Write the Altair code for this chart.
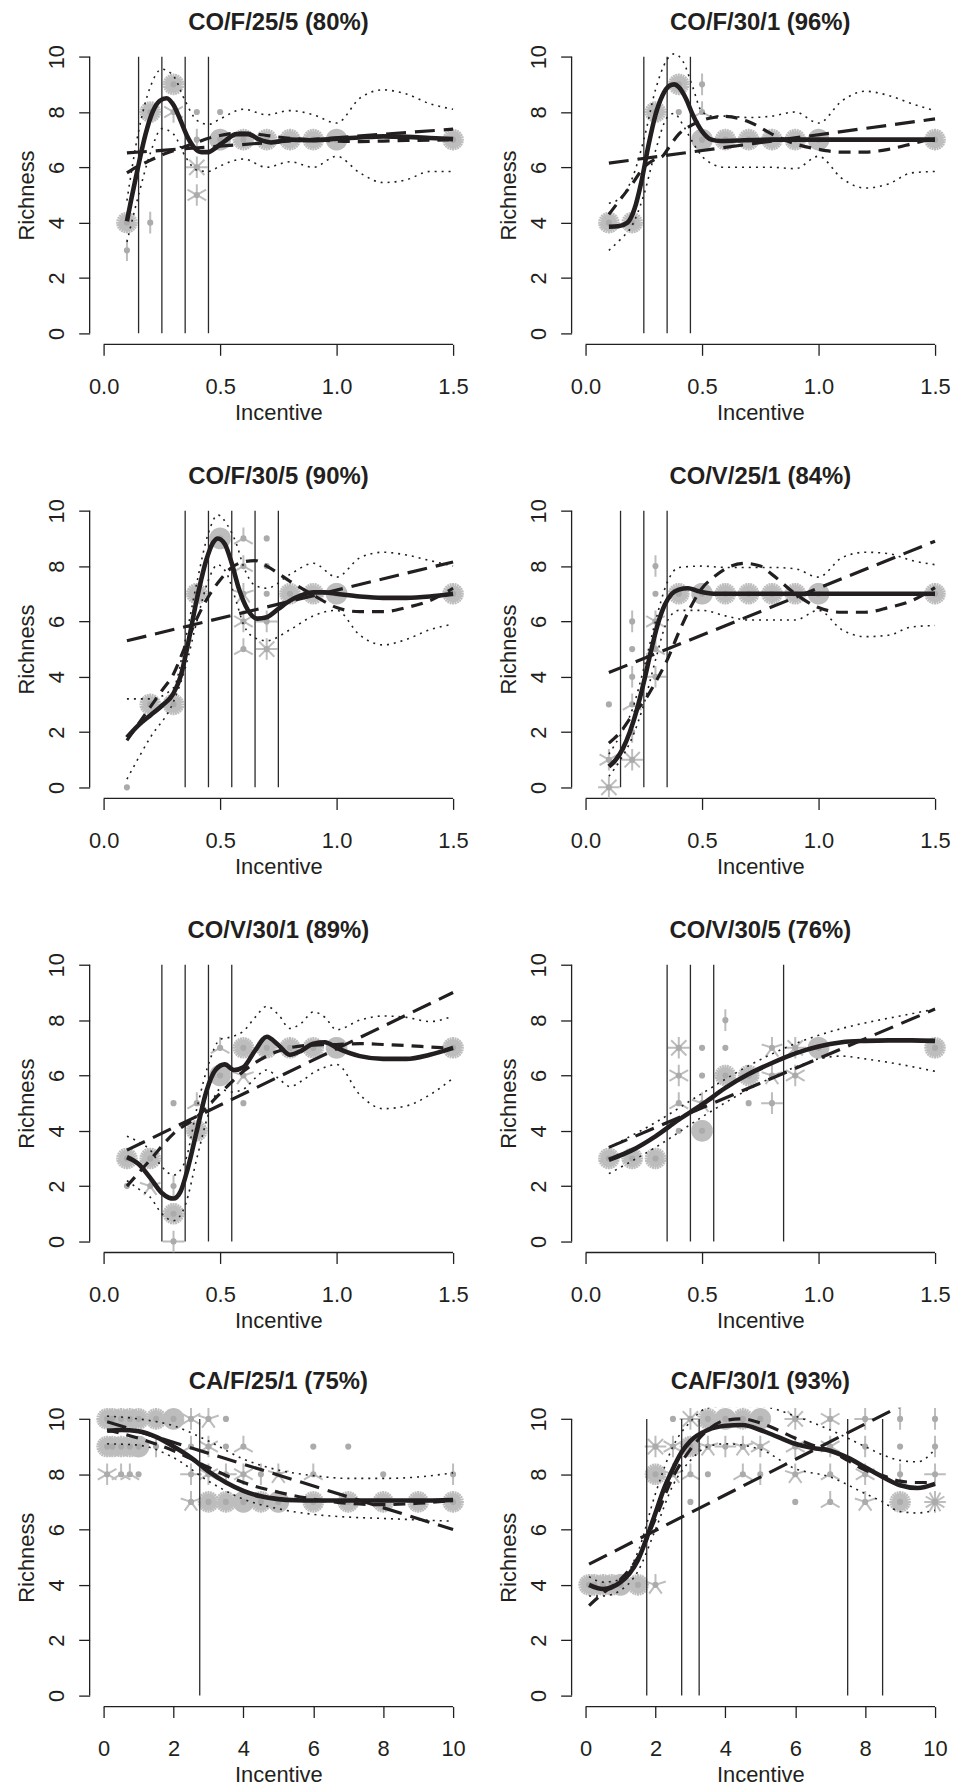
import math
import pandas as pd
import altair as alt

FONT = "Liberation Sans"
INK = "#231f20"
PETAL = "#bdbdbd"
DOT = "#ababab"

YTICKS = [0, 2, 4, 6, 8, 10]
XTICKS_CO = [0.0, 0.5, 1.0, 1.5]
XTICKS_CA = [0, 2, 4, 6, 8, 10]

TITLES = ["CO/F/25/5 (80%)", "CO/F/30/1 (96%)", "CO/F/30/5 (90%)", "CO/V/25/1 (84%)",
          "CO/V/30/1 (89%)", "CO/V/30/5 (76%)", "CA/F/25/1 (75%)", "CA/F/30/1 (93%)"]

# ---------------- Panel 1: CO/F/25/5 ----------------
P1_PX = [0.1, 0.1, 0.2, 0.2, 0.3, 0.3, 0.4, 0.4, 0.4, 0.4, 0.5, 0.5, 0.6, 0.7, 0.8, 0.9, 1.0, 1.5]
P1_PY = [4, 3, 4, 8, 9, 8, 8, 7, 6, 5, 8, 7, 7, 7, 7, 7, 7, 7]
P1_PN = [24, 2, 2, 24, 24, 6, 1, 2, 8, 6, 1, 60, 24, 24, 24, 24, 60, 24]
P1_V = [0.15, 0.25, 0.35, 0.45]
P1_FX = [0.10, 0.12, 0.15, 0.18, 0.21, 0.24, 0.27, 0.30, 0.33, 0.36, 0.39, 0.42, 0.45, 0.48, 0.52, 0.57, 0.62, 0.67, 0.72, 0.8, 0.9, 1.0, 1.1, 1.2, 1.3, 1.4, 1.5]
P1_FY = [4.05, 4.9, 6.1, 7.2, 8.0, 8.4, 8.5, 8.25, 7.7, 7.1, 6.7, 6.55, 6.55, 6.7, 6.95, 7.2, 7.2, 7.0, 6.9, 7.0, 6.98, 7.03, 7.08, 7.12, 7.1, 7.06, 7.02]
P1_SX = [0.1, 0.15, 0.2, 0.25, 0.3, 0.35, 0.4, 0.45, 0.5, 0.55, 0.6, 0.7, 0.8, 0.9, 1.0, 1.1, 1.2, 1.3, 1.4, 1.5]
P1_SY = [5.8, 6.05, 6.25, 6.45, 6.6, 6.75, 6.9, 7.05, 7.15, 7.22, 7.24, 7.15, 7.05, 7.0, 6.95, 6.93, 6.95, 6.97, 6.98, 7.0]
P1_LX = [0.1, 1.5]
P1_LY = [6.52, 7.38]
P1_BX = [0.1, 0.15, 0.2, 0.25, 0.3, 0.35, 0.4, 0.45, 0.5, 0.6, 0.7, 0.8, 0.9, 1.0, 1.1, 1.2, 1.3, 1.4, 1.5]
P1_UY = [4.8, 7.3, 8.9, 9.55, 9.3, 8.4, 7.7, 7.55, 7.75, 8.1, 7.9, 8.05, 7.9, 7.6, 8.5, 8.8, 8.65, 8.3, 8.1]
P1_DY = [3.3, 5.0, 6.5, 7.4, 7.2, 6.4, 5.9, 5.85, 6.05, 6.3, 6.0, 6.2, 6.0, 6.4, 5.8, 5.45, 5.55, 5.85, 5.85]

# ---------------- Panel 2: CO/F/30/1 ----------------
P2_PX = [0.1, 0.2, 0.3, 0.4, 0.4, 0.5, 0.5, 0.5, 0.6, 0.7, 0.8, 0.9, 1.0, 1.5]
P2_PY = [4, 4, 8, 9, 8, 9, 8, 7, 7, 7, 7, 7, 7, 7]
P2_PN = [24, 24, 24, 24, 1, 2, 3, 60, 24, 24, 24, 24, 60, 24]
P2_V = [0.25, 0.35, 0.45]
P2_FX = [0.1, 0.14, 0.18, 0.21, 0.24, 0.27, 0.3, 0.33, 0.36, 0.38, 0.4, 0.43, 0.46, 0.5, 0.54, 0.58, 0.65, 0.8, 1.0, 1.2, 1.5]
P2_FY = [3.85, 3.87, 4.0, 4.5, 5.5, 6.8, 7.9, 8.6, 8.95, 9.0, 8.9, 8.5, 7.9, 7.3, 7.0, 6.95, 6.97, 7.0, 7.0, 7.0, 7.0]
P2_SX = [0.1, 0.15, 0.2, 0.25, 0.3, 0.33, 0.36, 0.4, 0.45, 0.5, 0.55, 0.6, 0.7, 0.8, 0.9, 1.0, 1.1, 1.2, 1.3, 1.4, 1.5]
P2_SY = [4.3, 4.85, 5.4, 6.0, 6.3, 6.4, 6.75, 7.2, 7.5, 7.7, 7.8, 7.84, 7.65, 7.2, 6.85, 6.65, 6.55, 6.55, 6.65, 6.85, 7.07]
P2_LX = [0.1, 1.5]
P2_LY = [6.15, 7.75]
P2_BX = [0.1, 0.15, 0.2, 0.25, 0.3, 0.35, 0.38, 0.42, 0.46, 0.5, 0.55, 0.6, 0.7, 0.8, 0.9, 1.0, 1.1, 1.2, 1.3, 1.4, 1.5]
P2_UY = [4.7, 4.9, 5.6, 7.0, 8.8, 9.9, 10.1, 9.8, 8.9, 8.0, 7.85, 7.85, 7.8, 7.85, 8.0, 7.6, 8.4, 8.75, 8.6, 8.3, 8.05]
P2_DY = [3.0, 3.4, 3.9, 5.0, 6.6, 7.8, 7.95, 7.5, 6.9, 6.4, 6.1, 6.0, 6.0, 6.0, 5.95, 6.4, 5.6, 5.25, 5.4, 5.8, 5.85]

# ---------------- Panel 3: CO/F/30/5 ----------------
P3_PX = [0.1, 0.2, 0.3, 0.4, 0.5, 0.6, 0.6, 0.6, 0.6, 0.6, 0.7, 0.7, 0.7, 0.7, 0.7, 0.8, 0.9, 1.0, 1.5]
P3_PY = [0, 3, 3, 7, 9, 9, 8, 7, 6, 5, 9, 8, 7, 6, 5, 7, 7, 7, 7]
P3_PN = [1, 24, 24, 24, 60, 3, 3, 5, 6, 3, 1, 1, 1, 4, 8, 24, 24, 60, 24]
P3_V = [0.35, 0.45, 0.55, 0.65, 0.75]
P3_FX = [0.1, 0.15, 0.2, 0.25, 0.3, 0.33, 0.36, 0.4, 0.44, 0.47, 0.49, 0.52, 0.55, 0.58, 0.62, 0.66, 0.7, 0.75, 0.8, 0.85, 0.9, 0.95, 1.0, 1.1, 1.2, 1.3, 1.4, 1.5]
P3_FY = [1.8, 2.25, 2.6, 2.95, 3.4, 4.0, 5.1, 6.8, 8.2, 8.85, 9.0, 8.8, 8.1, 7.2, 6.4, 6.1, 6.15, 6.45, 6.75, 6.95, 7.05, 7.05, 7.0, 6.9, 6.85, 6.85, 6.9, 7.0]
P3_SX = [0.1, 0.15, 0.2, 0.25, 0.3, 0.35, 0.4, 0.45, 0.5, 0.55, 0.6, 0.65, 0.7, 0.8, 0.9, 1.0, 1.1, 1.2, 1.3, 1.4, 1.5]
P3_SY = [1.7, 2.3, 2.9, 3.5, 4.1, 5.1, 6.1, 6.9, 7.5, 7.95, 8.15, 8.2, 8.0, 7.45, 6.95, 6.5, 6.35, 6.35, 6.5, 6.75, 7.2]
P3_LX = [0.1, 1.5]
P3_LY = [5.3, 8.15]
P3_BX = [0.1, 0.2, 0.3, 0.35, 0.4, 0.45, 0.49, 0.53, 0.57, 0.6, 0.65, 0.7, 0.8, 0.9, 1.0, 1.1, 1.2, 1.3, 1.4, 1.5]
P3_UY = [3.2, 3.2, 3.6, 5.3, 7.4, 9.2, 9.85, 9.5, 8.8, 8.0, 7.3, 7.2, 7.7, 8.1, 7.6, 8.3, 8.5, 8.4, 8.2, 8.0]
P3_DY = [0.3, 1.8, 3.1, 4.3, 6.0, 7.5, 8.05, 7.7, 6.7, 5.9, 5.4, 5.3, 5.7, 6.2, 6.4, 5.5, 5.15, 5.35, 5.7, 5.9]

# ---------------- Panel 4: CO/V/25/1 ----------------
P4_PX = [0.1, 0.1, 0.1, 0.2, 0.2, 0.2, 0.2, 0.2, 0.2, 0.3, 0.3, 0.3, 0.3, 0.3, 0.4, 0.5, 0.6, 0.7, 0.8, 0.9, 1.0, 1.5]
P4_PY = [3, 1, 0, 6, 5, 4, 3, 2, 1, 8, 7, 6, 5, 4, 7, 7, 7, 7, 7, 7, 7, 7]
P4_PN = [1, 6, 8, 2, 1, 2, 3, 2, 8, 2, 1, 6, 3, 4, 24, 60, 24, 24, 24, 24, 60, 24]
P4_V = [0.15, 0.25, 0.35]
P4_FX = [0.1, 0.13, 0.16, 0.19, 0.22, 0.25, 0.28, 0.31, 0.34, 0.37, 0.4, 0.44, 0.48, 0.55, 0.7, 1.0, 1.5]
P4_FY = [0.75, 1.0, 1.4, 2.0, 2.8, 3.8, 4.9, 5.9, 6.6, 7.0, 7.15, 7.2, 7.1, 7.0, 7.0, 7.0, 7.0]
P4_SX = [0.1, 0.15, 0.2, 0.25, 0.3, 0.35, 0.4, 0.45, 0.5, 0.55, 0.6, 0.68, 0.75, 0.8, 0.9, 1.0, 1.1, 1.2, 1.3, 1.4, 1.5]
P4_SY = [1.6, 2.0, 2.6, 3.1, 3.8, 4.6, 5.6, 6.5, 7.2, 7.6, 7.9, 8.1, 8.0, 7.7, 7.0, 6.5, 6.33, 6.33, 6.5, 6.75, 7.22]
P4_LX = [0.1, 1.5]
P4_LY = [4.15, 8.9]
P4_BX = [0.1, 0.15, 0.2, 0.25, 0.3, 0.35, 0.4, 0.5, 0.6, 0.7, 0.8, 0.9, 1.0, 1.1, 1.2, 1.3, 1.4, 1.5]
P4_UY = [1.2, 1.9, 2.8, 4.3, 6.0, 7.4, 7.95, 8.0, 7.95, 7.95, 7.95, 7.9, 7.6, 8.3, 8.5, 8.45, 8.2, 8.05]
P4_DY = [0.4, 1.0, 1.8, 3.0, 4.6, 6.0, 6.4, 6.4, 6.2, 6.05, 6.05, 6.05, 6.4, 5.7, 5.45, 5.5, 5.8, 5.85]

# ---------------- Panel 5: CO/V/30/1 ----------------
P5_PX = [0.1, 0.1, 0.2, 0.2, 0.3, 0.3, 0.3, 0.3, 0.4, 0.4, 0.5, 0.5, 0.6, 0.6, 0.6, 0.7, 0.8, 0.9, 1.0, 1.5]
P5_PY = [3, 2, 3, 2, 5, 2, 1, 0, 5, 4, 7, 6, 7, 6, 5, 7, 7, 7, 7, 7]
P5_PN = [24, 1, 24, 5, 1, 2, 24, 4, 3, 24, 3, 60, 24, 5, 1, 24, 24, 24, 60, 24]
P5_V = [0.25, 0.35, 0.45, 0.55]
P5_FX = [0.1, 0.15, 0.2, 0.25, 0.28, 0.3, 0.33, 0.36, 0.4, 0.44, 0.48, 0.52, 0.56, 0.6, 0.65, 0.7, 0.75, 0.8, 0.85, 0.9, 0.95, 1.0, 1.1, 1.2, 1.3, 1.4, 1.5]
P5_FY = [3.05, 2.8, 2.3, 1.75, 1.58, 1.55, 1.8, 2.6, 4.0, 5.4, 6.2, 6.4, 6.2, 6.3, 6.9, 7.4, 7.1, 6.75, 6.9, 7.15, 7.2, 7.0, 6.7, 6.6, 6.6, 6.75, 7.0]
P5_SX = [0.1, 0.2, 0.3, 0.4, 0.5, 0.6, 0.7, 0.8, 0.9, 1.0, 1.1, 1.2, 1.3, 1.4, 1.5]
P5_SY = [2.0, 2.95, 3.9, 4.5, 5.35, 6.15, 6.7, 7.0, 7.1, 7.12, 7.15, 7.12, 7.08, 7.03, 6.98]
P5_LX = [0.1, 1.5]
P5_LY = [3.3, 9.0]
P5_BX = [0.1, 0.15, 0.2, 0.25, 0.3, 0.35, 0.4, 0.45, 0.5, 0.55, 0.6, 0.65, 0.7, 0.75, 0.8, 0.85, 0.9, 0.95, 1.0, 1.1, 1.2, 1.3, 1.4, 1.5]
P5_UY = [3.8, 3.6, 3.3, 2.7, 2.4, 2.9, 4.8, 6.4, 7.3, 7.4, 7.6, 8.1, 8.5, 8.2, 7.7, 7.9, 8.3, 8.1, 7.65, 8.0, 8.15, 8.1, 7.95, 8.15]
P5_DY = [2.2, 1.9, 1.6, 1.0, 0.75, 1.3, 3.0, 4.6, 5.5, 5.4, 5.5, 5.9, 6.2, 5.9, 5.6, 5.8, 6.1, 6.3, 6.4, 5.3, 4.8, 4.9, 5.3, 5.9]

# ---------------- Panel 6: CO/V/30/5 ----------------
P6_PX = [0.1, 0.2, 0.3, 0.4, 0.4, 0.4, 0.4, 0.5, 0.5, 0.5, 0.5, 0.6, 0.6, 0.6, 0.7, 0.7, 0.8, 0.8, 0.8, 0.9, 0.9, 1.0, 1.5]
P6_PY = [3, 3, 3, 7, 6, 5, 4, 7, 6, 5, 4, 8, 7, 6, 6, 5, 7, 6, 5, 7, 6, 7, 7]
P6_PN = [24, 24, 24, 8, 6, 3, 1, 1, 1, 5, 60, 2, 1, 24, 24, 1, 5, 5, 4, 8, 6, 60, 24]
P6_V = [0.35, 0.45, 0.55, 0.85]
P6_FX = [0.1, 0.2, 0.3, 0.4, 0.5, 0.6, 0.7, 0.8, 0.9, 1.0, 1.1, 1.2, 1.3, 1.4, 1.5]
P6_FY = [2.95, 3.3, 3.8, 4.4, 4.95, 5.55, 6.05, 6.45, 6.8, 7.05, 7.2, 7.25, 7.27, 7.27, 7.25]
P6_SX = []
P6_SY = []
P6_LX = [0.1, 1.5]
P6_LY = [3.4, 8.4]
P6_BX = [0.1, 0.3, 0.5, 0.7, 0.9, 1.0, 1.1, 1.2, 1.35, 1.5]
P6_UY = [3.4, 4.3, 5.35, 6.35, 7.15, 7.45, 7.7, 7.9, 8.15, 8.4]
P6_DY = [2.45, 3.4, 4.5, 5.5, 6.3, 6.6, 6.7, 6.6, 6.4, 6.15]

# ---------------- Panel 7: CA/F/25/1 ----------------
P7_PX = [0.1, 0.25, 0.5, 0.75, 1.0, 1.5, 2.0, 2.5, 3.0, 3.5,
         0.1, 0.25, 0.5, 0.75, 1.0, 1.5, 2.5, 3.0, 3.5, 4.0, 6, 7,
         0.1, 0.5, 0.75, 1.0, 2.5, 3.0, 3.5, 4.0, 4.5, 5, 6, 8, 10,
         2.5, 3, 3.5, 4, 4.5, 5, 6, 7, 8, 9, 10]
P7_PY = [10, 10, 10, 10, 10, 10, 10, 10, 10, 10,
         9, 9, 9, 9, 9, 9, 9, 9, 9, 9, 9, 9,
         8, 8, 8, 8, 8, 8, 8, 8, 8, 8, 8, 8, 8,
         7, 7, 7, 7, 7, 7, 7, 7, 7, 7, 7]
P7_PN = [24, 24, 24, 24, 24, 24, 60, 6, 5, 1,
         24, 24, 24, 24, 60, 2, 3, 6, 1, 3, 1, 1,
         6, 3, 3, 1, 4, 6, 4, 6, 2, 5, 3, 1, 2,
         5, 24, 24, 60, 24, 60, 24, 24, 24, 24, 24]
P7_V = [2.75]
P7_FX = [0.1, 0.5, 1.0, 1.5, 2.0, 2.5, 3.0, 3.5, 4.0, 4.5, 5.0, 5.5, 6, 7, 8, 9, 10]
P7_FY = [9.57, 9.6, 9.55, 9.35, 9.0, 8.6, 8.1, 7.7, 7.4, 7.2, 7.1, 7.06, 7.05, 7.05, 7.05, 7.05, 7.07]
P7_SX = [0.1, 1, 2, 3, 4, 5, 6, 7, 8, 9, 10]
P7_SY = [9.6, 9.3, 8.85, 8.25, 7.7, 7.35, 7.1, 6.95, 6.9, 6.95, 7.05]
P7_LX = [0.1, 10]
P7_LY = [9.9, 6.0]
P7_BX = [0.1, 1, 2, 3, 4, 5, 6, 7, 8, 9, 10]
P7_UY = [10.1, 10.0, 9.75, 9.2, 8.55, 8.15, 7.95, 7.85, 7.85, 7.9, 8.05]
P7_DY = [9.1, 9.05, 8.6, 7.75, 7.1, 6.75, 6.55, 6.45, 6.4, 6.35, 6.3]

# ---------------- Panel 8: CA/F/30/1 ----------------
P8_PX = [0.1, 0.25, 0.5, 0.75, 1.0, 1.5, 2.0,
         2.0, 2.0, 2.5, 2.5, 2.5, 3.0, 3.0, 3.0, 3.0, 3.5, 3.5, 3.5,
         4.0, 4.0, 4.5, 4.5, 4.5, 5.0, 5.0, 5.0,
         6, 6, 6, 6, 7, 7, 7, 7, 8, 8, 8, 8, 9, 9, 9, 9, 10, 10, 10, 10]
P8_PY = [4, 4, 4, 4, 4, 4, 4,
         9, 8, 10, 9, 8, 10, 9, 8, 7, 10, 9, 8,
         10, 9, 10, 9, 8, 10, 9, 8,
         10, 9, 8, 7, 10, 9, 8, 7, 10, 9, 8, 7, 10, 9, 8, 7, 10, 9, 8, 7]
P8_PN = [24, 24, 24, 24, 60, 24, 5,
         8, 24, 1, 6, 5, 8, 24, 3, 1, 24, 5, 1,
         60, 4, 24, 5, 3, 60, 6, 2,
         8, 6, 5, 1, 6, 6, 3, 3, 4, 2, 6, 5, 2, 1, 2, 24, 2, 2, 4, 12]
P8_V = [1.75, 2.75, 3.25, 7.5, 8.5]
P8_FX = [0.1, 0.5, 1.0, 1.25, 1.5, 1.75, 2.0, 2.25, 2.5, 2.75, 3.0, 3.5, 4.0, 4.5, 5.0, 5.5, 6.0, 6.5, 7.0, 7.5, 8.0, 8.5, 9.0, 9.5, 10]
P8_FY = [4.0, 3.85, 4.1, 4.4, 4.9, 5.7, 6.6, 7.5, 8.2, 8.8, 9.2, 9.6, 9.75, 9.78, 9.6, 9.35, 9.1, 8.95, 8.85, 8.6, 8.25, 7.9, 7.6, 7.5, 7.65]
P8_SX = [0.1, 0.5, 1.0, 1.5, 2.0, 2.5, 3.0, 3.5, 4.0, 4.5, 5.0, 5.5, 6.0, 6.5, 7.0, 7.5, 8.0, 8.5, 9.0, 9.5, 10]
P8_SY = [3.25, 3.7, 4.2, 5.0, 6.4, 7.9, 8.9, 9.6, 9.95, 10.0, 9.85, 9.6, 9.3, 9.05, 8.85, 8.5, 8.15, 7.95, 7.75, 7.7, 7.7]
P8_LX = [0.1, 10]
P8_LY = [4.75, 11.1]
P8_BX = [0.1, 0.5, 1.0, 1.5, 2.0, 2.5, 3.0, 3.5, 4.0, 5.0, 6.0, 7.0, 8.0, 8.5, 9.0, 9.5, 10]
P8_UY = [4.3, 4.1, 4.2, 5.2, 7.3, 9.0, 9.9, 10.4, 10.45, 10.45, 10.1, 9.6, 9.0, 8.7, 8.5, 8.45, 8.9]
P8_DY = [3.6, 3.6, 3.8, 4.5, 6.0, 7.6, 8.5, 9.0, 9.1, 8.9, 8.2, 7.9, 7.3, 7.0, 6.65, 6.6, 6.7]

PANELS = [
    (P1_PX, P1_PY, P1_PN, P1_V, P1_FX, P1_FY, P1_SX, P1_SY, P1_LX, P1_LY, P1_BX, P1_UY, P1_DY, XTICKS_CO),
    (P2_PX, P2_PY, P2_PN, P2_V, P2_FX, P2_FY, P2_SX, P2_SY, P2_LX, P2_LY, P2_BX, P2_UY, P2_DY, XTICKS_CO),
    (P3_PX, P3_PY, P3_PN, P3_V, P3_FX, P3_FY, P3_SX, P3_SY, P3_LX, P3_LY, P3_BX, P3_UY, P3_DY, XTICKS_CO),
    (P4_PX, P4_PY, P4_PN, P4_V, P4_FX, P4_FY, P4_SX, P4_SY, P4_LX, P4_LY, P4_BX, P4_UY, P4_DY, XTICKS_CO),
    (P5_PX, P5_PY, P5_PN, P5_V, P5_FX, P5_FY, P5_SX, P5_SY, P5_LX, P5_LY, P5_BX, P5_UY, P5_DY, XTICKS_CO),
    (P6_PX, P6_PY, P6_PN, P6_V, P6_FX, P6_FY, P6_SX, P6_SY, P6_LX, P6_LY, P6_BX, P6_UY, P6_DY, XTICKS_CO),
    (P7_PX, P7_PY, P7_PN, P7_V, P7_FX, P7_FY, P7_SX, P7_SY, P7_LX, P7_LY, P7_BX, P7_UY, P7_DY, XTICKS_CA),
    (P8_PX, P8_PY, P8_PN, P8_V, P8_FX, P8_FY, P8_SX, P8_SY, P8_LX, P8_LY, P8_BX, P8_UY, P8_DY, XTICKS_CA),
]

W, H = 379, 300
PETAL_COUNTS = [2, 3, 4, 5, 6, 8, 12, 24, 60]


def petal_path(n):
    # sunflower glyph: n petals radiating from the centre, first one pointing up
    parts = []
    for k in range(1, n + 1):
        a = 2 * math.pi * k / n
        parts.append(f"M0,0L{math.sin(a):.4f},{-math.cos(a):.4f}")
    return "".join(parts)


PETAL_PATHS = [petal_path(n) for n in PETAL_COUNTS]


def expand(ticks):
    span = ticks[-1] - ticks[0]
    return [ticks[0] - 0.04 * span, ticks[-1] + 0.04 * span]


def make_panel(title, spec):
    px, py, pn, vl, fx, fy, sx, sy, lx, ly, bx, uy, dy, xticks = spec
    xdom = expand(xticks)
    ydom = expand(YTICKS)
    fmt = ".1f" if xticks[-1] < 5 else "d"

    def X(field):
        return alt.X(f"{field}:Q", scale=alt.Scale(domain=xdom, nice=False, zero=False),
                     axis=alt.Axis(values=xticks, format=fmt, title="Incentive",
                                   domain=False, grid=False, tickSize=11, tickWidth=1.3,
                                   tickColor=INK, labelFont=FONT, labelFontSize=22,
                                   labelColor=INK, labelPadding=38, labelBaseline="alphabetic",
                                   labelFlush=False, labelOverlap=False,
                                   titleFont=FONT, titleFontSize=22, titleFontWeight="normal",
                                   titleColor=INK, titleY=75, titleBaseline="alphabetic"))

    def Y(field):
        return alt.Y(f"{field}:Q", scale=alt.Scale(domain=ydom, nice=False, zero=False),
                     axis=alt.Axis(values=YTICKS, format="d", title="Richness",
                                   domain=False, grid=False, tickSize=11, tickWidth=1.3,
                                   tickColor=INK, labelFont=FONT, labelFontSize=22,
                                   labelColor=INK, labelPadding=15, labelAngle=270,
                                   labelAlign="center", labelBaseline="alphabetic",
                                   labelFlush=False, labelOverlap=False,
                                   titleFont=FONT, titleFontSize=22, titleFontWeight="normal",
                                   titleColor=INK, titleX=-56, titleAngle=270,
                                   titleBaseline="alphabetic"))

    pts = pd.DataFrame({"x": px, "y": py, "n": pn})
    petals = alt.Chart(pts).transform_filter("datum.n >= 2").mark_point(
        filled=False, strokeWidth=2, size=470, opacity=1, color=PETAL
    ).encode(x=X("x"), y=Y("y"),
             shape=alt.Shape("n:N", scale=alt.Scale(domain=PETAL_COUNTS, range=PETAL_PATHS),
                             legend=None))
    dots = alt.Chart(pts).mark_circle(size=38, opacity=1, color=DOT).encode(x=X("x"), y=Y("y"))

    yax = alt.Chart(pd.DataFrame({"lo": [YTICKS[0]], "hi": [YTICKS[-1]]})).mark_rule(
        color=INK, strokeWidth=1.3).encode(y=Y("lo"), y2="hi:Q", x=alt.value(0))
    xax = alt.Chart(pd.DataFrame({"lo": [xticks[0]], "hi": [xticks[-1]]})).mark_rule(
        color=INK, strokeWidth=1.3).encode(x=X("lo"), x2="hi:Q", y=alt.value(H))

    vdf = pd.DataFrame({"v": vl, "lo": [YTICKS[0]] * len(vl), "hi": [YTICKS[-1]] * len(vl)})
    vrules = alt.Chart(vdf).mark_rule(color="#2a2a2a", strokeWidth=1.3).encode(
        x=X("v"), y=Y("lo"), y2="hi:Q")

    def line(xs, ys, width, dash, interp="monotone"):
        df = pd.DataFrame({"x": xs, "y": ys})
        kw = dict(color=INK, strokeWidth=width, clip=True, interpolate=interp, strokeCap="butt")
        if dash:
            kw["strokeDash"] = dash
        return alt.Chart(df).mark_line(**kw).encode(x=X("x"), y=Y("y"))

    layers = [xax, yax, petals, dots, vrules,
              line(bx, uy, 1.6, [2, 5]), line(bx, dy, 1.6, [2, 5])]
    if sx:
        layers.append(line(sx, sy, 3.2, [12, 8]))
    layers.append(line(lx, ly, 3.2, [20, 9], "linear"))
    layers.append(line(fx, fy, 4.6, None))

    return alt.layer(*layers).properties(
        width=W, height=H,
        title=alt.TitleParams(title, font=FONT, fontSize=24, fontWeight="bold", color=INK,
                              anchor="middle", frame="group", offset=-9,
                              baseline="alphabetic"))


charts = [make_panel(t, s) for t, s in zip(TITLES, PANELS)]

chart = alt.concat(*charts, columns=2, spacing={"row": 156, "column": 105}, bounds="flush").properties(
    padding={"left": 8, "top": -2, "right": 0, "bottom": 0}
).configure_view(stroke=None)

chart.save("out.html", embed_options={"renderer": "svg", "actions": False})
